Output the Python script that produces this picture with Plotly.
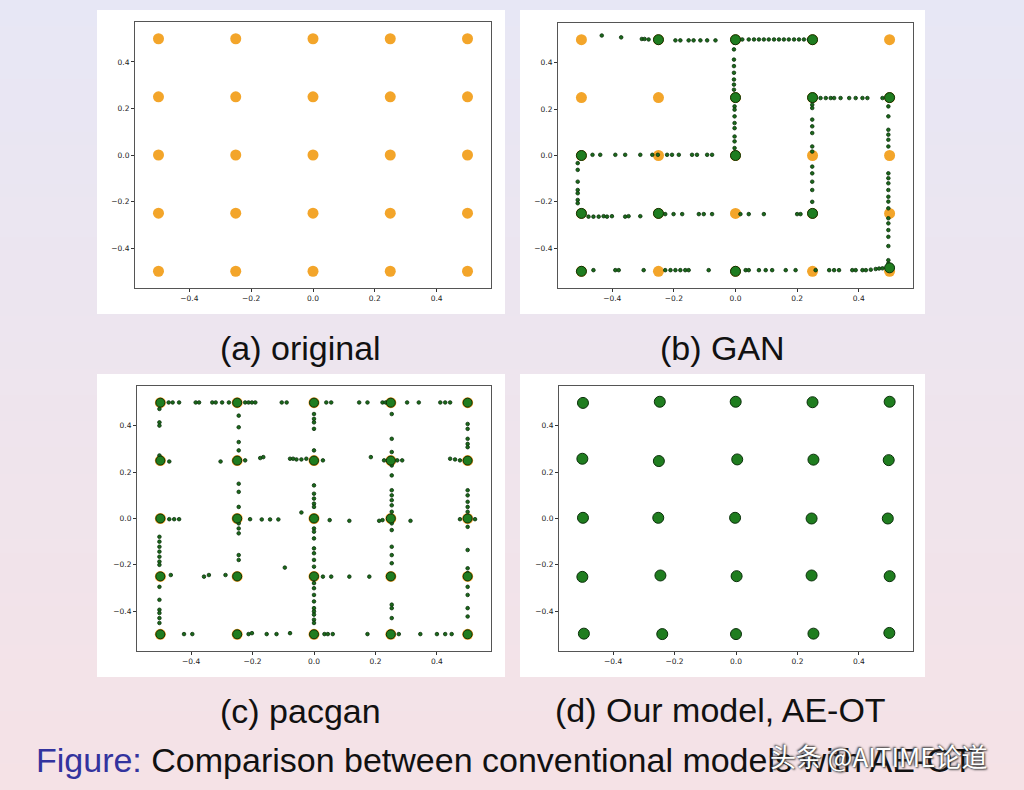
import plotly.graph_objects as go

# ---------------- data ----------------
grid_x = [-0.5, -0.25, 0.0, 0.25, 0.5]
grid_y = [0.5, 0.25, 0.0, -0.25, -0.5]

# (a) original: 25 orange modes
orig_x = [x for y in grid_y for x in grid_x]
orig_y = [y for y in grid_y for x in grid_x]

# (b) GAN
gan_cluster_x = [-0.25, 0.0, 0.25, 0.0, 0.0, 0.25, 0.5, -0.5, -0.5, -0.25, 0.25, -0.5, 0.0, 0.5]
gan_cluster_y = [0.5, 0.5, 0.5, 0.25, 0.0, 0.25, 0.25, 0.0, -0.25, -0.25, -0.25, -0.5, -0.5, -0.485]
gan_pts_x = [
    -0.434, -0.371, -0.304, -0.295, -0.282, -0.195, -0.179, -0.152, -0.136, -0.114, -0.092, -0.065,
    0.022, 0.043, 0.06, 0.076, 0.092, 0.108, 0.125, 0.141, 0.157, 0.173, 0.19, 0.206, 0.222, 0.238,
    -0.005, -0.005, -0.005, -0.005, -0.005, -0.005, -0.005, -0.005,
    -0.003, -0.003, -0.003, -0.003, -0.003, -0.003, -0.003, -0.003,
    0.276, 0.293, 0.309, 0.32, 0.341, 0.369, 0.39, 0.412, 0.428, 0.477,
    0.249, 0.249, 0.249, 0.249, 0.249, 0.249, 0.249, 0.249, 0.249, 0.249, 0.249, 0.249,
    0.496, 0.496, 0.496, 0.496, 0.496, 0.496, 0.496, 0.496, 0.496, 0.496, 0.496, 0.496,
    0.496, 0.496, 0.496, 0.496, 0.496, 0.496, 0.496, 0.496,
    -0.464, -0.439, -0.39, -0.358, -0.309, -0.27, -0.252, -0.222, -0.206, -0.184, -0.141, -0.125, -0.092, -0.076,
    -0.512, -0.512, -0.512, -0.512, -0.512, -0.512, -0.512,
    -0.477, -0.461, -0.444, -0.428, -0.417, -0.401, -0.358, -0.347, -0.309,
    -0.228, -0.201, -0.173, -0.119, -0.103, -0.076, 0.016, 0.043, 0.092, 0.2, 0.211,
    -0.493, -0.461, -0.39, -0.379, -0.298, -0.228, -0.211, -0.195, -0.179, -0.163, -0.152, -0.087,
    0.033, 0.043, 0.076, 0.098, 0.119, 0.163, 0.195, 0.26, 0.304, 0.32, 0.336, 0.379, 0.39,
    0.412, 0.423, 0.439, 0.455, 0.466, 0.477,
]
gan_pts_y = [
    0.518, 0.51, 0.503, 0.503, 0.501, 0.497, 0.497, 0.497, 0.497, 0.497, 0.497, 0.497,
    0.501, 0.501, 0.501, 0.501, 0.501, 0.501, 0.501, 0.501, 0.501, 0.501, 0.501, 0.501, 0.501, 0.501,
    0.487, 0.458, 0.414, 0.386, 0.357, 0.328, 0.306, 0.284,
    0.212, 0.198, 0.169, 0.14, 0.118, 0.082, 0.061, 0.032,
    0.248, 0.248, 0.248, 0.248, 0.248, 0.248, 0.248, 0.248, 0.248, 0.248,
    0.219, 0.205, 0.155, 0.126, 0.097, 0.039, 0.017, -0.048, -0.077, -0.113, -0.149, -0.2,
    0.212, 0.169, 0.111, 0.09, 0.068, 0.039, -0.077, -0.098, -0.12, -0.149, -0.178, -0.199,
    -0.228, -0.271, -0.293, -0.322, -0.351, -0.391, -0.452, -0.466,
    0.003, 0.003, 0.003, 0.003, 0.003, 0.003, 0.003, 0.003, 0.003, 0.003, 0.003, 0.003, 0.003, 0.003,
    -0.033, -0.062, -0.113, -0.149, -0.163, -0.192, -0.206,
    -0.264, -0.264, -0.264, -0.262, -0.264, -0.262, -0.264, -0.262, -0.262,
    -0.253, -0.253, -0.253, -0.253, -0.253, -0.253, -0.253, -0.253, -0.253, -0.253, -0.253,
    -0.495, -0.495, -0.495, -0.495, -0.495, -0.495, -0.495, -0.495, -0.495, -0.495, -0.495, -0.495,
    -0.495, -0.495, -0.495, -0.495, -0.495, -0.495, -0.495, -0.495, -0.495, -0.495, -0.495, -0.495, -0.495,
    -0.495, -0.495, -0.493, -0.49, -0.488, -0.487,
]

# (c) pacgan
pac_cluster_x = [x for y in grid_y for x in grid_x]
pac_cluster_y = [y for y in grid_y for x in grid_x]
pac_pts_x = [
    -0.473, -0.46, -0.439, -0.385, -0.374, -0.331, -0.32, -0.299, -0.277, -0.224, -0.213, -0.202, -0.191,
    -0.105, -0.089, 0.04, 0.056, 0.147, 0.174, 0.223, 0.233, 0.303, 0.341, 0.411, 0.427, 0.443,
    -0.503, -0.503, -0.503, -0.503, -0.471,
    -0.245, -0.245, -0.245, -0.245, -0.224,
    -0.304, -0.175, -0.165, -0.078, -0.068, -0.057, -0.041, -0.025, 0.029, 0.185, 0.228, 0.271, 0.287,
    0.443, 0.459, 0.475,
    0.0, 0.0, 0.0, 0.0, 0.0,
    0.253, 0.253, 0.253, 0.253, 0.253, 0.253, 0.253, 0.253, 0.253, 0.253, 0.212, 0.223,
    0.253, 0.253, 0.253, 0.253, 0.253, 0.253, 0.253, 0.253,
    0.5, 0.5, 0.5, 0.5, 0.5, 0.5, 0.5, 0.5, 0.5, 0.5, 0.475, 0.524,
    0.5, 0.5, 0.5, 0.5, 0.5, 0.5, 0.5, 0.5,
    0.0, 0.0, 0.0, 0.0, 0.0, 0.0, 0.0, 0.0, 0.0, 0.0, 0.0, 0.0,
    0.0, 0.0, 0.0, 0.0, 0.0, 0.0, 0.0, 0.0, 0.0,
    0.029, 0.056, 0.115, 0.18, 0.051, 0.115, -0.041, 0.314,
    -0.208, -0.17, -0.143, -0.116,
    -0.245, -0.245, -0.245, -0.245, -0.245, -0.245, -0.245, -0.245,
    -0.358, -0.342, -0.288, -0.466, -0.095,
    -0.471, -0.455, -0.439,
    -0.503, -0.503, -0.503, -0.503, -0.503, -0.503, -0.503,
    -0.503, -0.503, -0.503, -0.503, -0.503, -0.503,
    -0.423, -0.396, -0.213, -0.202, -0.154, -0.122, -0.078, 0.034, 0.045, 0.061, 0.174,
    0.276, 0.346, 0.4, 0.427, 0.448,
]
pac_pts_y = [
    0.501, 0.501, 0.501, 0.501, 0.501, 0.501, 0.501, 0.501, 0.501, 0.501, 0.501, 0.501, 0.501,
    0.501, 0.501, 0.501, 0.501, 0.501, 0.501, 0.501, 0.501, 0.501, 0.501, 0.501, 0.501, 0.501,
    0.473, 0.415, 0.401, 0.272, 0.246,
    0.444, 0.394, 0.33, 0.294, 0.251,
    0.246, 0.261, 0.265, 0.258, 0.258, 0.255, 0.255, 0.258, 0.251, 0.265, 0.251, 0.251, 0.251,
    0.258, 0.255, 0.251,
    0.451, 0.43, 0.415, 0.387, 0.294,
    0.451, 0.344, 0.287, 0.229, 0.186, 0.122, 0.1, 0.079, 0.057, 0.029, -0.01, -0.007,
    -0.021, -0.05, -0.122, -0.158, -0.193, -0.372, -0.387, -0.43,
    0.408, 0.387, 0.344, 0.322, 0.308, 0.122, 0.1, 0.072, 0.05, 0.029, -0.003, -0.003,
    -0.036, -0.136, -0.215, -0.236, -0.295, -0.33, -0.387, -0.423,
    0.143, 0.107, 0.086, 0.064, 0.05, -0.043, -0.057, -0.086, -0.129, -0.15, -0.179, -0.208,
    -0.279, -0.301, -0.33, -0.358, -0.387, -0.401, -0.415, -0.437, -0.451,
    -0.251, -0.251, -0.251, -0.251, -0.007, -0.01, 0.026, -0.01,
    -0.003, -0.004, -0.004, -0.004,
    0.15, 0.115, 0.05, -0.021, -0.043, -0.064, -0.158, -0.179,
    -0.251, -0.244, -0.244, -0.244, -0.212,
    -0.003, -0.003, -0.003,
    -0.079, -0.1, -0.122, -0.143, -0.165, -0.186, -0.2,
    -0.295, -0.351, -0.394, -0.408, -0.43, -0.451,
    -0.499, -0.499, -0.499, -0.495, -0.499, -0.499, -0.495, -0.499, -0.499, -0.499, -0.499,
    -0.499, -0.499, -0.499, -0.499, -0.499,
]

# (d) AE-OT
aeot_x = [-0.498, -0.248, -0.001, 0.249, 0.5,
          -0.5, -0.251, 0.004, 0.252, 0.497,
          -0.498, -0.253, -0.003, 0.246, 0.494,
          -0.5, -0.246, 0.002, 0.246, 0.5,
          -0.495, -0.24, 0.0, 0.252, 0.499]
aeot_y = [0.499, 0.504, 0.504, 0.502, 0.504,
          0.258, 0.248, 0.255, 0.254, 0.252,
          0.003, 0.003, 0.003, 0.0, 0.0,
          -0.252, -0.246, -0.249, -0.246, -0.249,
          -0.497, -0.499, -0.499, -0.497, -0.494]

tick_vals = [-0.4, -0.2, 0.0, 0.2, 0.4]
tick_text = ["\u22120.4", "\u22120.2", "0.0", "0.2", "0.4"]

captions = ["(a) original", "(b) GAN", "(c) pacgan", "(d) Our model, AE-OT"]

# ---------------- figure ----------------
W, H = 1024, 790
ORANGE = "#f3a52a"
GREEN = "#1f7d1f"
GEDGE = "#0b300b"

fig = go.Figure()

def px(x):
    return x / W

def py(y):
    return 1 - y / H

domains = [
    ((135, 491), (22, 288)),
    ((558, 913), (23, 288)),
    ((137, 491), (386, 651)),
    ((559, 913), (386, 651)),
]

axis_common = dict(
    tickvals=tick_vals, ticktext=tick_text,
    ticks="outside", ticklen=3, tickwidth=1, tickcolor="#333",
    showline=True, linecolor="#555", linewidth=1, mirror=True,
    showgrid=False, zeroline=False,
    tickfont=dict(family="DejaVu Sans", size=7.5, color="#222"),
)

layout_axes = {}
for i, ((x0, x1), (y0, y1)) in enumerate(domains):
    n = "" if i == 0 else str(i + 1)
    layout_axes["xaxis" + n] = dict(axis_common, domain=[px(x0), px(x1)],
                                    anchor="y" + n, range=[-0.576, 0.576])
    layout_axes["yaxis" + n] = dict(axis_common, domain=[py(y1), py(y0)],
                                    anchor="x" + n, range=[-0.572, 0.572])

def small(xs, ys, ax):
    return go.Scatter(x=xs, y=ys, mode="markers", xaxis="x" + ax, yaxis="y" + ax,
                      marker=dict(size=3.6, color="#1a6a1a", line=dict(color=GEDGE, width=0.8)),
                      hoverinfo="skip", showlegend=False)

def cluster(xs, ys, ax, color, size, edge=None):
    return go.Scatter(x=xs, y=ys, mode="markers", xaxis="x" + ax, yaxis="y" + ax,
                      marker=dict(size=size, color=color,
                                  line=dict(color=edge or color, width=1 if edge else 0)),
                      hoverinfo="skip", showlegend=False)

# (a)
fig.add_trace(cluster(orig_x, orig_y, "", ORANGE, 11))
# (b)
fig.add_trace(cluster(orig_x, orig_y, "2", ORANGE, 11))
fig.add_trace(small(gan_pts_x, gan_pts_y, "2"))
fig.add_trace(cluster(gan_cluster_x, gan_cluster_y, "2", GREEN, 10, GEDGE))
# (c)
fig.add_trace(cluster(orig_x, orig_y, "3", ORANGE, 11))
fig.add_trace(small(pac_pts_x, pac_pts_y, "3"))
fig.add_trace(cluster(pac_cluster_x, pac_cluster_y, "3", GREEN, 9, GEDGE))
# (d)
fig.add_trace(cluster(aeot_x, aeot_y, "4", GREEN, 11, GEDGE))

# background gradient + white panels
shapes = []
top = (231, 231, 245)
bot = (245, 226, 230)
N = 60
for k in range(N):
    t = (k + 0.5) / N
    c = tuple(int(round(top[j] + (bot[j] - top[j]) * t)) for j in range(3))
    shapes.append(dict(type="rect", xref="paper", yref="paper", layer="below",
                       x0=0, x1=1, y0=1 - (k + 1) / N - 0.002, y1=1 - k / N,
                       fillcolor="rgb(%d,%d,%d)" % c, line=dict(width=0)))
for (x0, x1, y0, y1) in [(97, 505, 10, 314), (520, 925, 10, 314),
                         (97, 505, 374, 677), (520, 925, 374, 677)]:
    shapes.append(dict(type="rect", xref="paper", yref="paper", layer="below",
                       x0=px(x0), x1=px(x1), y0=py(y1), y1=py(y0),
                       fillcolor="#ffffff", line=dict(width=0)))

cap_font = dict(family="Liberation Sans, Arial, sans-serif", size=34, color="#111")
annotations = [
    dict(text=captions[0], x=px(300), y=py(348)),
    dict(text=captions[1], x=px(722), y=py(348)),
    dict(text=captions[2], x=px(300), y=py(711)),
    dict(text=captions[3], x=px(720), y=py(710)),
]
for a in annotations:
    a.update(xref="paper", yref="paper", showarrow=False, xanchor="center",
             yanchor="middle", font=cap_font)
annotations.append(dict(
    text="<span style='color:#33339e'>Figure:</span> Comparison between conventional models with AE-OT",
    x=px(34), y=py(760), xref="paper", yref="paper", showarrow=False,
    xanchor="left", yanchor="middle", font=cap_font))
annotations.append(dict(
    text="头条 @AITIME论道", x=px(768), y=py(755), xref="paper", yref="paper",
    showarrow=False, xanchor="left", yanchor="middle",
    font=dict(family="Noto Sans CJK SC", size=26, color="#ffffff",
              shadow="1px 1px 2px #333, -1px -1px 2px #333")))

fig.update_layout(
    width=W, height=H, margin=dict(l=0, r=0, t=0, b=0),
    paper_bgcolor="rgb(231,231,245)", plot_bgcolor="#ffffff",
    shapes=shapes, annotations=annotations, showlegend=False,
    **layout_axes,
)

fig.write_html("out.html", config={"displayModeBar": False},
               post_script="document.body.style.margin='0px';document.body.style.overflow='hidden';")
